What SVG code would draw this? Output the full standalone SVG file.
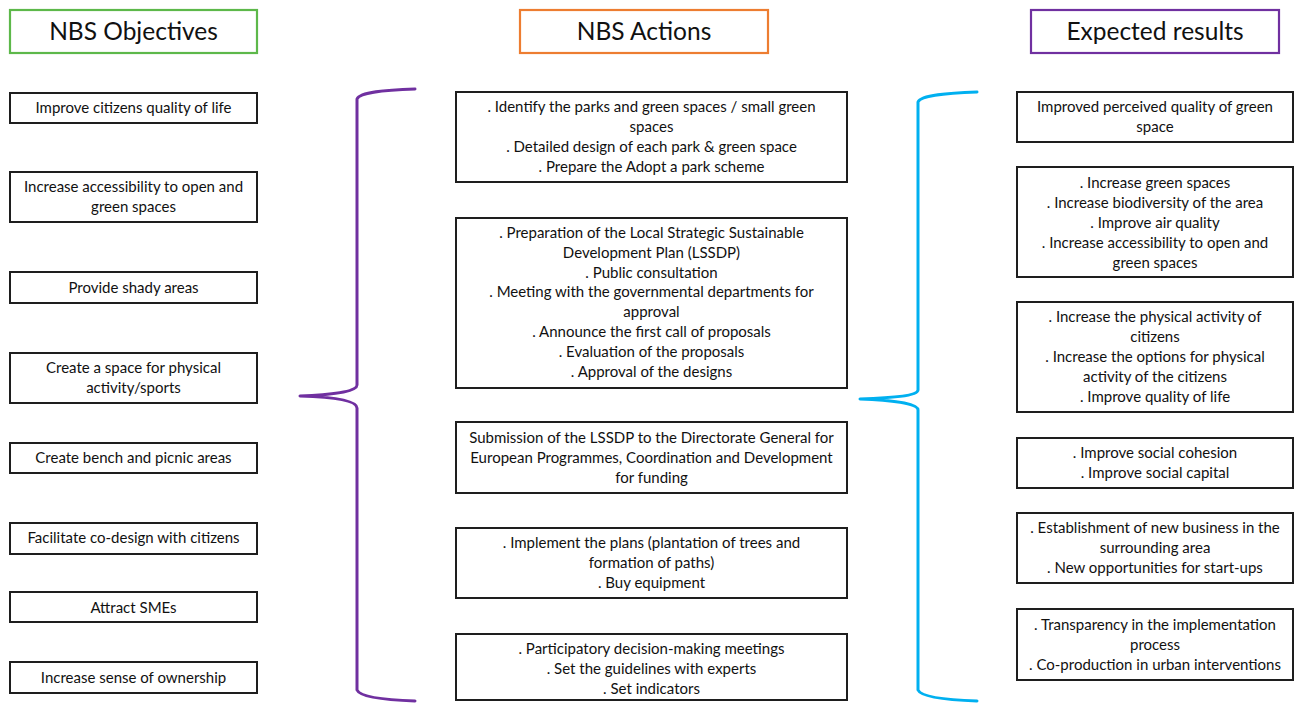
<svg xmlns="http://www.w3.org/2000/svg" width="1298" height="703" viewBox="0 0 1298 703">
<style>
  .box{fill:#fff;stroke:#1e1e1e;stroke-width:2}
  .hdr{fill:#fff;stroke-width:2.2}
  .t{font-family:"Lato","Liberation Sans",sans-serif;font-size:15px;fill:#111;text-anchor:middle}
  .h{font-family:"Lato","Liberation Sans",sans-serif;font-size:24.5px;fill:#111;text-anchor:middle}
  .brace{fill:none;stroke-width:3;stroke-linecap:round;stroke-linejoin:round}
</style>
<rect width="1298" height="703" fill="#fff"/>
<g id="connectors">
  <path class="brace" stroke="#7030A0" d="M415,89 C385,90 360,92 357,99 L357,385 C357,392 330,395 300,396 C330,397 357,400 357,408 L357,690 C360,697 385,700 415,701"/>
  <path class="brace" stroke="#00B0F0" d="M977,92 C948,93 921,95 918,102 L918,390 C918,396 890,398 860,399 C890,400 918,403 918,410 L918,690 C921,697 948,700 977,701"/>
</g>
<g id="hdr-objectives"><rect class="hdr" stroke="#5DB84A" x="10" y="10" width="247" height="43"/><text class="h" x="133.5" y="40">NBS Objectives</text></g>
<g id="hdr-actions"><rect class="hdr" stroke="#ED7D31" x="520" y="10" width="248" height="43"/><text class="h" x="644" y="40">NBS Actions</text></g>
<g id="hdr-results"><rect class="hdr" stroke="#7030A0" x="1031" y="10" width="248" height="43"/><text class="h" x="1155" y="40">Expected results</text></g>

<g id="obj1"><rect class="box" x="10" y="93" width="247" height="30"/><text class="t"><tspan x="133.5" y="113">Improve citizens quality of life</tspan></text></g>
<g id="obj2"><rect class="box" x="10" y="172" width="247" height="50"/><text class="t"><tspan x="133.5" y="192">Increase accessibility to open and</tspan><tspan x="133.5" y="212">green spaces</tspan></text></g>
<g id="obj3"><rect class="box" x="10" y="272" width="247" height="31"/><text class="t"><tspan x="133.5" y="292.5">Provide shady areas</tspan></text></g>
<g id="obj4"><rect class="box" x="10" y="353" width="247" height="50"/><text class="t"><tspan x="133.5" y="373">Create a space for physical</tspan><tspan x="133.5" y="393">activity/sports</tspan></text></g>
<g id="obj5"><rect class="box" x="10" y="443" width="247" height="30"/><text class="t"><tspan x="133.5" y="463">Create bench and picnic areas</tspan></text></g>
<g id="obj6"><rect class="box" x="10" y="523" width="247" height="31"/><text class="t"><tspan x="133.5" y="543">Facilitate co-design with citizens</tspan></text></g>
<g id="obj7"><rect class="box" x="10" y="592" width="247" height="30"/><text class="t"><tspan x="133.5" y="612.5">Attract SMEs</tspan></text></g>
<g id="obj8"><rect class="box" x="10" y="662" width="247" height="31"/><text class="t"><tspan x="133.5" y="682.5">Increase sense of ownership</tspan></text></g>

<g id="act1"><rect class="box" x="456" y="92" width="391" height="90"/><text class="t"><tspan x="651.5" y="112">. Identify the parks and green spaces / small green</tspan><tspan x="651.5" y="132">spaces</tspan><tspan x="651.5" y="152">. Detailed design of each park &amp; green space</tspan><tspan x="651.5" y="172">. Prepare the Adopt a park scheme</tspan></text></g>
<g id="act2"><rect class="box" x="456" y="218" width="391" height="170"/><text class="t"><tspan x="651.5" y="238">. Preparation of the Local Strategic Sustainable</tspan><tspan x="651.5" y="258">Development Plan (LSSDP)</tspan><tspan x="651.5" y="277.5">. Public consultation</tspan><tspan x="651.5" y="297">. Meeting with the governmental departments for</tspan><tspan x="651.5" y="317">approval</tspan><tspan x="651.5" y="337">. Announce the first call of proposals</tspan><tspan x="651.5" y="357">. Evaluation of the proposals</tspan><tspan x="651.5" y="376.5">. Approval of the designs</tspan></text></g>
<g id="act3"><rect class="box" x="456" y="422" width="391" height="71"/><text class="t"><tspan x="651.5" y="443">Submission of the LSSDP to the Directorate General for</tspan><tspan x="651.5" y="463">European Programmes, Coordination and Development</tspan><tspan x="651.5" y="483">for funding</tspan></text></g>
<g id="act4"><rect class="box" x="456" y="528" width="391" height="70"/><text class="t"><tspan x="651.5" y="548">. Implement the plans (plantation of trees and</tspan><tspan x="651.5" y="568">formation of paths)</tspan><tspan x="651.5" y="588">. Buy equipment</tspan></text></g>
<g id="act5"><rect class="box" x="456" y="634" width="391" height="66"/><text class="t"><tspan x="651.5" y="654">. Participatory decision-making meetings</tspan><tspan x="651.5" y="674">. Set the guidelines with experts</tspan><tspan x="651.5" y="694">. Set indicators</tspan></text></g>

<g id="res1"><rect class="box" x="1017" y="92" width="276" height="50"/><text class="t"><tspan x="1155" y="112">Improved perceived quality of green</tspan><tspan x="1155" y="132">space</tspan></text></g>
<g id="res2"><rect class="box" x="1017" y="167" width="276" height="110"/><text class="t"><tspan x="1155" y="188">. Increase green spaces</tspan><tspan x="1155" y="208">. Increase biodiversity of the area</tspan><tspan x="1155" y="228">. Improve air quality</tspan><tspan x="1155" y="248">. Increase accessibility to open and</tspan><tspan x="1155" y="268">green spaces</tspan></text></g>
<g id="res3"><rect class="box" x="1017" y="302" width="276" height="110"/><text class="t"><tspan x="1155" y="322">. Increase the physical activity of</tspan><tspan x="1155" y="342">citizens</tspan><tspan x="1155" y="362">. Increase the options for physical</tspan><tspan x="1155" y="382">activity of the citizens</tspan><tspan x="1155" y="402">. Improve quality of life</tspan></text></g>
<g id="res4"><rect class="box" x="1017" y="438" width="276" height="50"/><text class="t"><tspan x="1155" y="458">. Improve social cohesion</tspan><tspan x="1155" y="478">. Improve social capital</tspan></text></g>
<g id="res5"><rect class="box" x="1017" y="513" width="276" height="70"/><text class="t"><tspan x="1155" y="533">. Establishment of new business in the</tspan><tspan x="1155" y="553">surrounding area</tspan><tspan x="1155" y="573">. New opportunities for start-ups</tspan></text></g>
<g id="res6"><rect class="box" x="1017" y="609" width="276" height="71"/><text class="t"><tspan x="1155" y="630">. Transparency in the implementation</tspan><tspan x="1155" y="650">process</tspan><tspan x="1155" y="670">. Co-production in urban interventions</tspan></text></g>
</svg>
